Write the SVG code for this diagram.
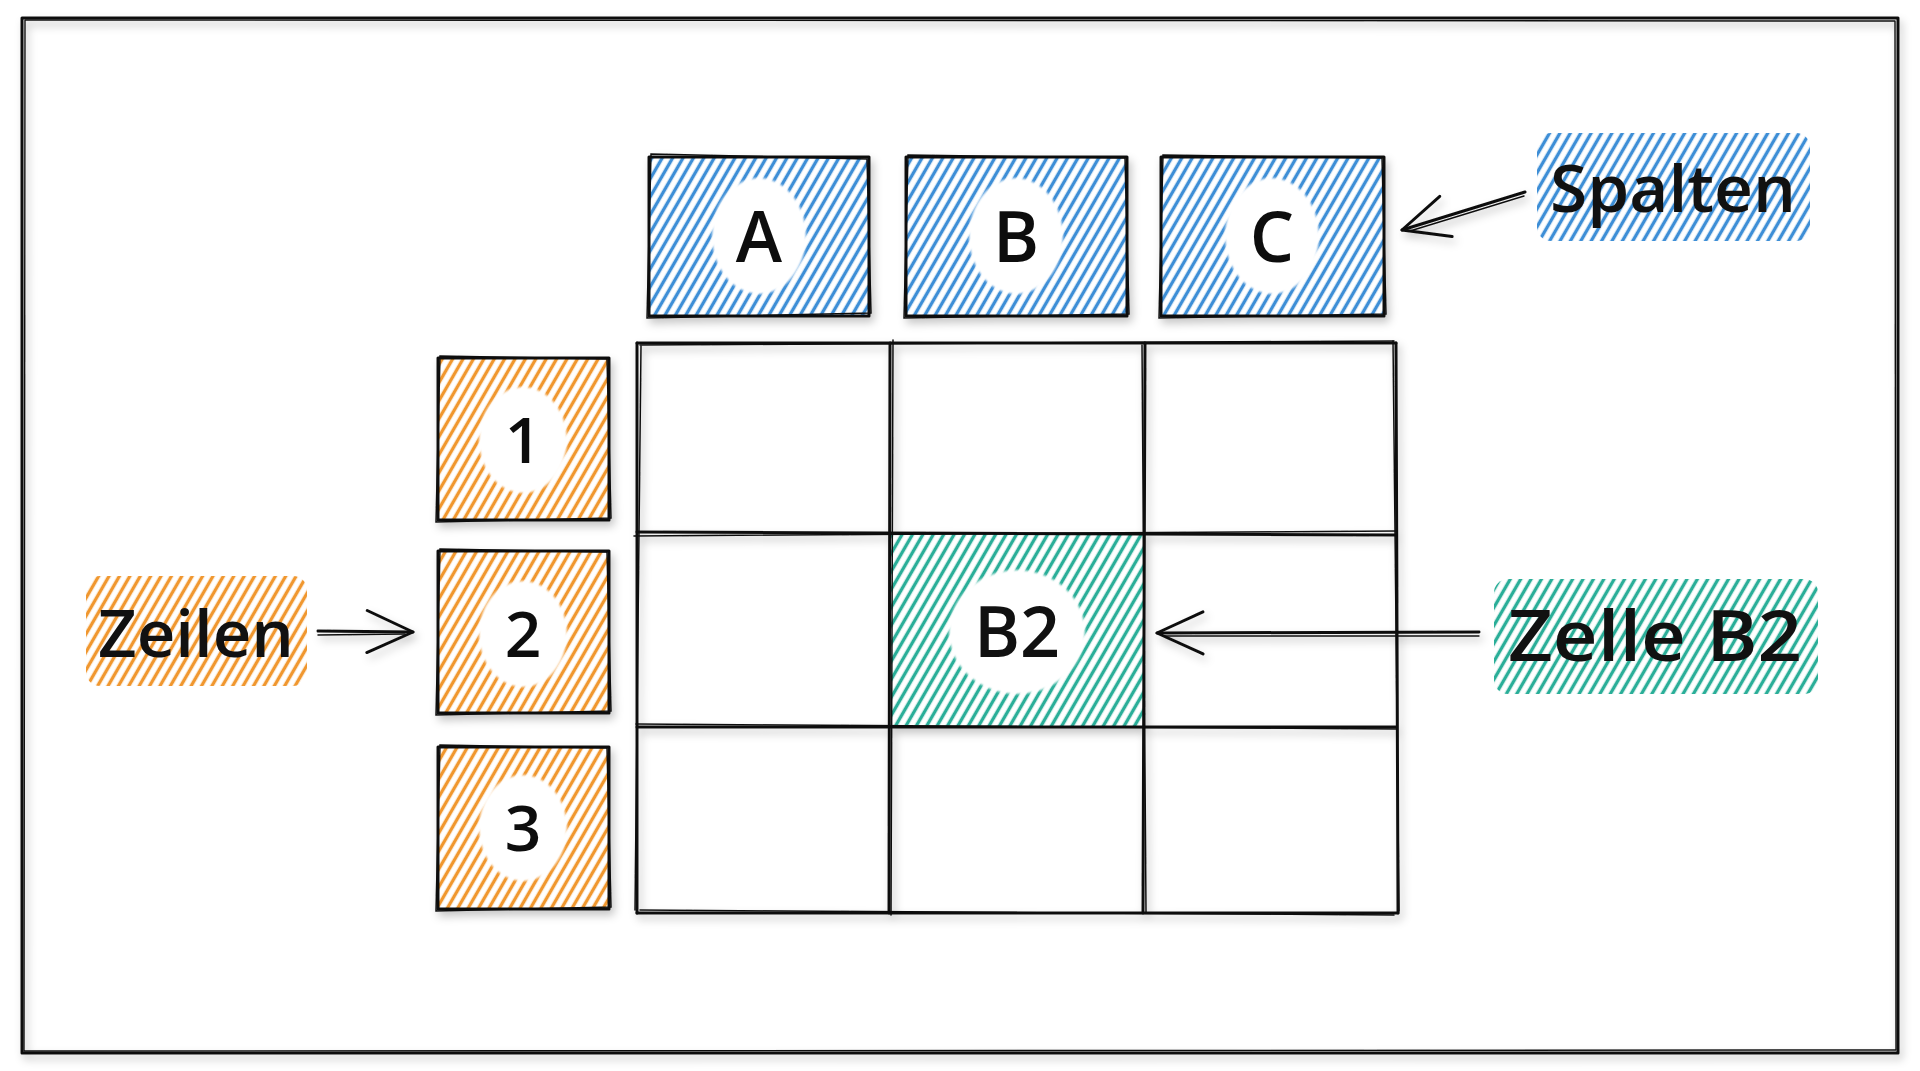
<svg xmlns="http://www.w3.org/2000/svg" width="1920" height="1071" viewBox="0 0 1920 1071">
  <defs>
    <pattern id="hBlue" patternUnits="userSpaceOnUse" width="9" height="9" patternTransform="rotate(30)">
      <rect width="9" height="9" fill="#ffffff"/>
      <line x1="4.5" y1="-1" x2="4.5" y2="10" stroke="#3d8ed6" stroke-width="3.4"/>
    </pattern>
    <pattern id="hOrange" patternUnits="userSpaceOnUse" width="9" height="9" patternTransform="rotate(30)">
      <rect width="9" height="9" fill="#ffffff"/>
      <line x1="4.5" y1="-1" x2="4.5" y2="10" stroke="#f0972f" stroke-width="3.4"/>
    </pattern>
    <pattern id="hTeal" patternUnits="userSpaceOnUse" width="9" height="9" patternTransform="rotate(30)">
      <rect width="9" height="9" fill="#ffffff"/>
      <line x1="4.5" y1="-1" x2="4.5" y2="10" stroke="#2aae98" stroke-width="3.4"/>
    </pattern>
    <filter id="shadow" x="-10%" y="-10%" width="120%" height="130%">
      <feDropShadow dx="3" dy="5" stdDeviation="4" flood-color="#000" flood-opacity="0.22"/>
    </filter>
    <filter id="soft" x="-10%" y="-10%" width="120%" height="120%">
      <feGaussianBlur stdDeviation="1.2"/>
    </filter>
    <marker id="chev" markerUnits="userSpaceOnUse" viewBox="0 0 60 60" refX="54" refY="30" markerWidth="60" markerHeight="60" orient="auto">
      <path d="M8,9 L54,30 L8,51" fill="none" stroke="#111" stroke-width="3" stroke-linecap="round" stroke-linejoin="round"/>
    </marker>
  </defs>
  <style>
    .frame { fill: none; stroke: #111; stroke-width: 3; stroke-linejoin: round; }
    .frame2 { fill: none; stroke: #111; stroke-width: 1.4; stroke-linejoin: round; }
    .box { stroke: #111; stroke-width: 3; stroke-linejoin: round; }
    .box2 { fill: none; stroke: #111; stroke-width: 1.5; }
    .grid { fill: none; stroke: #111; stroke-width: 3; stroke-linecap: round; }
    .grid2 { fill: none; stroke: #111; stroke-width: 1.5; stroke-linecap: round; }
    .hole { fill: #ffffff; }
    .t { font-family: "Open Sans", "Noto Sans", "Liberation Sans", sans-serif; font-weight: 600; fill: #111; text-anchor: middle; }
    .arrow { fill: none; stroke: #111; stroke-width: 3; stroke-linecap: round; }
    .arrow2 { fill: none; stroke: #111; stroke-width: 1.4; stroke-linecap: round; }
  </style>

  <rect width="1920" height="1071" fill="#ffffff"/>

  <!-- outer frame -->
  <g id="frame" filter="url(#shadow)">
    <rect x="22" y="18" width="1876" height="1035" class="frame"/>
    <path d="M25,20 L1895,21 L1896,1050 L24,1051 Z" class="frame2"/>
  </g>

  <!-- grid -->
  <g id="grid" filter="url(#shadow)">
    <rect id="cellB2" x="891" y="533" width="252" height="194" fill="url(#hTeal)"/>
    <path d="M637,343 L1396,343 M637,532 L1396,535 M637,727 L1396,727 M637,913 L1398,913" class="grid"/>
    <path d="M637,343 L637,913 M890,343 L889,913 M1145,343 L1143,913 M1396,343 L1398,913" class="grid"/>
    <path d="M640,345 L1394,341 M634,536 L1397,531 M636,724 L1397,729 M640,910 L1394,915" class="grid2"/>
    <path d="M641,346 L635,910 M893,340 L891,915 M1142,345 L1146,912 M1393,341 L1399,911" class="grid2"/>
  </g>

  <!-- column headers -->
  <g id="colA" filter="url(#shadow)">
    <rect x="649" y="157" width="220" height="159" fill="url(#hBlue)" class="box"/>
    <path d="M651,154 L867,159 L871,313 L647,318 Z" class="box2"/>
    <ellipse cx="759" cy="236" rx="47" ry="58" class="hole" filter="url(#soft)"/>
    <text x="759" y="262" class="t" font-size="70">A</text>
  </g>
  <g id="colB" filter="url(#shadow)">
    <rect x="906" y="157" width="221" height="159" fill="url(#hBlue)" class="box"/>
    <path d="M908,155 L1125,158 L1129,314 L904,318 Z" class="box2"/>
    <ellipse cx="1016" cy="236" rx="47" ry="58" class="hole" filter="url(#soft)"/>
    <text x="1016" y="262" class="t" font-size="70">B</text>
  </g>
  <g id="colC" filter="url(#shadow)">
    <rect x="1161" y="157" width="223" height="159" fill="url(#hBlue)" class="box"/>
    <path d="M1163,155 L1382,158 L1386,314 L1159,318 Z" class="box2"/>
    <ellipse cx="1272" cy="236" rx="47" ry="58" class="hole" filter="url(#soft)"/>
    <text x="1272" y="262" class="t" font-size="70">C</text>
  </g>

  <!-- row headers -->
  <g id="row1" filter="url(#shadow)">
    <rect x="438" y="358" width="171" height="162" fill="url(#hOrange)" class="box"/>
    <path d="M440,356 L607,359 L611,518 L436,522 Z" class="box2"/>
    <ellipse cx="523" cy="440" rx="44" ry="53" class="hole" filter="url(#soft)"/>
    <text x="523" y="463" class="t" font-size="64">1</text>
  </g>
  <g id="row2" filter="url(#shadow)">
    <rect x="438" y="551" width="171" height="162" fill="url(#hOrange)" class="box"/>
    <path d="M440,549 L607,552 L611,711 L436,715 Z" class="box2"/>
    <ellipse cx="523" cy="634" rx="44" ry="53" class="hole" filter="url(#soft)"/>
    <text x="523" y="657" class="t" font-size="64">2</text>
  </g>
  <g id="row3" filter="url(#shadow)">
    <rect x="438" y="747" width="171" height="162" fill="url(#hOrange)" class="box"/>
    <path d="M440,745 L607,748 L611,907 L436,911 Z" class="box2"/>
    <ellipse cx="523" cy="828" rx="44" ry="53" class="hole" filter="url(#soft)"/>
    <text x="523" y="851" class="t" font-size="64">3</text>
  </g>

  <!-- B2 cell label -->
  <g id="b2">
    <ellipse cx="1017" cy="632" rx="68" ry="62" class="hole" filter="url(#soft)"/>
    <text x="1017" y="657" class="t" font-size="70">B2</text>
  </g>

  <!-- annotation labels -->
  <g id="labelSpalten">
    <rect x="1537" y="133" width="273" height="108" rx="14" fill="url(#hBlue)"/>
    <text x="1673" y="212" class="t" font-size="66" textLength="246" lengthAdjust="spacingAndGlyphs">Spalten</text>
  </g>
  <g id="labelZeilen">
    <rect x="86" y="576" width="221" height="110" rx="14" fill="url(#hOrange)"/>
    <text x="196" y="657" class="t" font-size="66" textLength="196" lengthAdjust="spacingAndGlyphs">Zeilen</text>
  </g>
  <g id="labelZelle">
    <rect x="1494" y="579" width="324" height="115" rx="14" fill="url(#hTeal)"/>
    <text x="1655" y="661" class="t" font-size="70" textLength="294" lengthAdjust="spacingAndGlyphs">Zelle B2</text>
  </g>

  <!-- connectors -->
  <g id="connectors" filter="url(#shadow)">
    <path d="M1525,192 L1402,230" class="arrow" marker-end="url(#chev)"/>
    <path d="M1524,196 L1410,231" class="arrow2"/>
    <path d="M318,631 L413,632" class="arrow" marker-end="url(#chev)"/>
    <path d="M318,635 L405,634" class="arrow2"/>
    <path d="M1479,632 L1157,633" class="arrow" marker-end="url(#chev)"/>
    <path d="M1479,636 L1165,636" class="arrow2"/>
  </g>
</svg>
